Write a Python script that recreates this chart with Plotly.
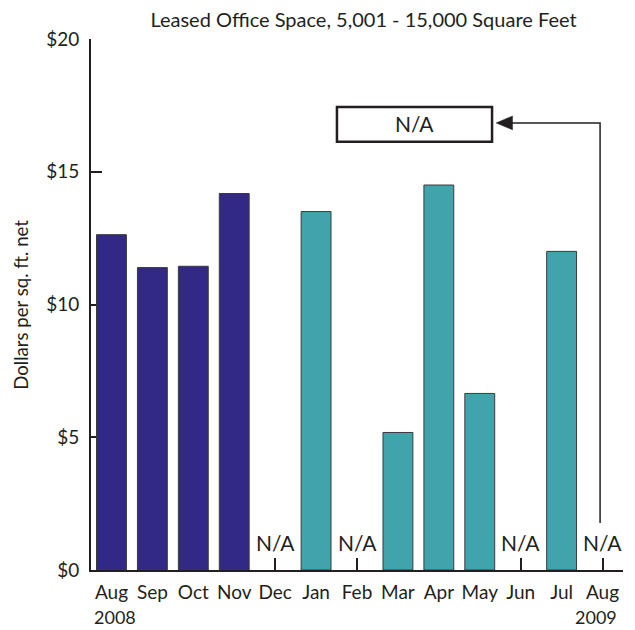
import plotly.graph_objects as go

months = ["Aug", "Sep", "Oct", "Nov", "Dec", "Jan", "Feb", "Mar", "Apr", "May", "Jun", "Jul", "Aug"]
year_start, year_end = "2008", "2009"
values_2008 = [12.63, 11.39, 11.44, 14.18, None]                     # Aug–Dec 2008
values_2009 = [13.5, None, 5.18, 14.5, 6.65, None, 12.0, None]       # Jan–Aug 2009
y_ticks = [0, 5, 10, 15, 20]
y_tick_labels = ["$0", "$5", "$10", "$15", "$20"]

NAVY = "#312985"
TEAL = "#41a4ac"
FONT = "Lato"
INK = "#231f20"

values = values_2008 + values_2009
x_idx = list(range(len(months)))
n08 = len(values_2008)

fig = go.Figure()
fig.add_trace(go.Bar(
    x=x_idx[:n08], y=values_2008, width=0.73,
    marker=dict(color=NAVY, line=dict(color="#3a3a3a", width=1)),
    hoverinfo="y", showlegend=False))
fig.add_trace(go.Bar(
    x=x_idx[n08:], y=values_2009, width=0.73,
    marker=dict(color=TEAL, line=dict(color="#3a3a3a", width=1)),
    hoverinfo="y", showlegend=False))

# N/A labels for missing months
for i, v in zip(x_idx, values):
    if v is None:
        fig.add_annotation(x=i, y=0, text="N/A", showarrow=False,
                           yanchor="bottom", yshift=13,
                           font=dict(family=FONT, size=21, color=INK))

# Year labels under the first and last months
fig.add_annotation(x=x_idx[0], xshift=-19, y=0, yref="y", text=year_start,
                   showarrow=False, xanchor="left", yanchor="middle", yshift=-47,
                   font=dict(family=FONT, size=18, color=INK))
fig.add_annotation(x=x_idx[-1], xshift=16, y=0, yref="y", text=year_end,
                   showarrow=False, xanchor="right", yanchor="middle", yshift=-47,
                   font=dict(family=FONT, size=18, color=INK))

# Callout box and connector
fig.add_shape(type="rect", x0=5.51, x1=9.30, y0=16.13, y1=17.44,
              line=dict(color=INK, width=2.5), fillcolor="white")
fig.add_annotation(x=7.4, y=16.8, text="N/A", showarrow=False,
                   font=dict(family=FONT, size=21, color=INK))
fig.add_shape(type="path", path="M 11.94 1.77 L 11.94 16.84 L 9.75 16.84",
              line=dict(color=INK, width=1.5))
fig.add_shape(type="path", path="M 9.40 16.84 L 9.80 17.10 L 9.80 16.58 Z",
              line=dict(color=INK, width=0.5), fillcolor=INK)

# The page body adds an 8px offset, so the figure is 8px smaller on each axis.
fig.update_layout(
    width=627, height=622,
    margin=dict(l=83, r=12, t=31, b=60),
    plot_bgcolor="white", paper_bgcolor="white",
    title=dict(text="Leased Office Space, 5,001 - 15,000 Square Feet",
               x=0.567, xanchor="center", y=0.981, yanchor="middle",
               font=dict(family=FONT, size=20, color=INK)),
    font=dict(family=FONT, color=INK),
    xaxis=dict(range=[-0.5, 12.5], tickvals=x_idx, ticktext=months,
               showgrid=False, zeroline=False,
               showline=True, linecolor=INK, linewidth=2,
               ticks="inside", ticklen=12, tickwidth=1.5, tickcolor=INK,
               tickfont=dict(family=FONT, size=19, color=INK),
               ticklabelstandoff=4,
               layer="below traces"),
    yaxis=dict(range=[0, 20], tickvals=y_ticks, ticktext=y_tick_labels,
               showgrid=False, zeroline=False,
               showline=True, linecolor=INK, linewidth=2,
               ticks="inside", ticklen=11, tickwidth=2, tickcolor=INK,
               tickfont=dict(family=FONT, size=19, color=INK),
               ticklabelstandoff=6,
               layer="below traces"),
)
fig.add_annotation(xref="paper", yref="paper", x=-0.133, y=0.5,
                   xanchor="center", yanchor="middle",
                   text="Dollars per sq. ft. net", textangle=-90,
                   showarrow=False, font=dict(family=FONT, size=18.6, color=INK))

fig.write_html("out.html")
